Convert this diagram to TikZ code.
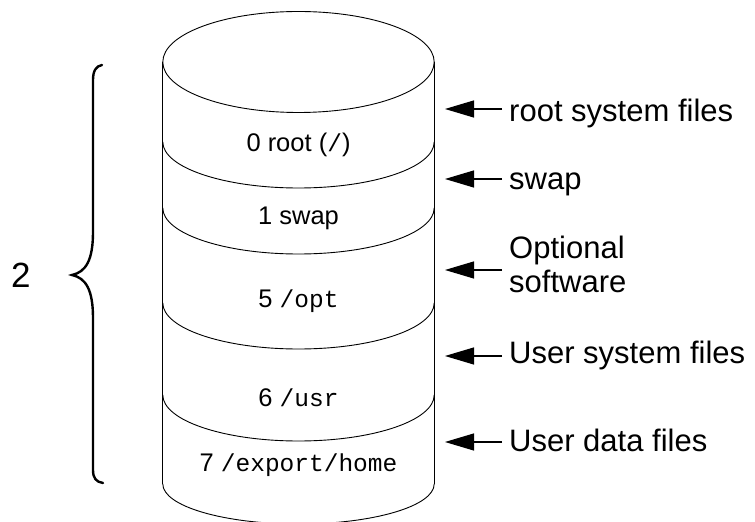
\documentclass[tikz,border=0pt]{standalone}
\usepackage{fontspec}
\setmainfont{Liberation Sans}
\setmonofont{Liberation Mono}
\usetikzlibrary{arrows.meta}
\tikzset{
  cyl/.style={line width=0.9pt, draw=black},
  brace/.style={line width=2.4pt, draw=black, line cap=round},
  arr/.style={line width=1.2pt, -{Triangle[length=29pt,width=17pt]}},
  inlabel/.style={inner sep=0pt, anchor=base, font=\fontsize{25.5}{30}\selectfont},
  outlabel/.style={inner sep=0pt, anchor=base west, font=\fontsize{31}{34}\selectfont, align=left},
}
\newcommand{\mono}[1]{{\fontsize{24.5}{30}\selectfont\ttfamily #1}}
\begin{document}
\begin{tikzpicture}[x=1pt,y=1pt]
\useasboundingbox (0,0) rectangle (755,522);
% cylinder
\def\cx{298.5}
\def\rx{135.7}
\draw[cyl] (\cx,460) ellipse [x radius=\rx, y radius=50.5];
\draw[cyl] (\cx-\rx,460) -- (\cx-\rx,38);
\draw[cyl] (\cx+\rx,460) -- (\cx+\rx,38);
\foreach \yy in {380,314,219,127}{
  \draw[cyl] (\cx-\rx,\yy) arc[start angle=180, end angle=360, x radius=\rx, y radius=46];
}
\draw[cyl] (\cx-\rx,38) arc[start angle=180, end angle=360, x radius=\rx, y radius=40];
% inside labels
\node[inlabel] (p0) at (\cx,370) {0 root (\mono{/})};
\node[inlabel] (p1) at (\cx,297) {1 swap};
\node[inlabel] (p5) at (\cx,214) {5 \mono{/opt}};
\node[inlabel] (p6) at (\cx,115) {6 \mono{/usr}};
\node[inlabel] (p7) at (\cx,50) {7 \mono{/export/home}};
% brace
\draw[brace] (102,457) .. controls (96,456) and (93,451) .. (93,442) -- (93,290)
  .. controls (93,262) and (86,250) .. (72,247)
  .. controls (86,244) and (93,232) .. (93,204) -- (93,52)
  .. controls (93,44) and (96,40) .. (103,39);
\node[inner sep=0pt, anchor=base west, font=\fontsize{35}{40}\selectfont] (two) at (11,234) {2};
% right labels
\node[outlabel] (l1) at (509,400) {root system files};
\node[outlabel] (l2) at (509,332) {swap};
\node[outlabel, anchor=base west] (l3) at (509,263) {Optional};
\node[outlabel, anchor=base west] (l3b) at (509,229) {software};
\node[outlabel] (l4) at (509,158) {User system files};
\node[outlabel] (l5) at (509,70) {User data files};
% arrows
\foreach \n/\yy in {1/413,2/343,3/252,4/166,5/80}{
  \coordinate (s\n) at (502,\yy);
  \coordinate (t\n) at (445,\yy);
  \draw[arr] (s\n) -- (t\n);
}
\end{tikzpicture}
\end{document}
